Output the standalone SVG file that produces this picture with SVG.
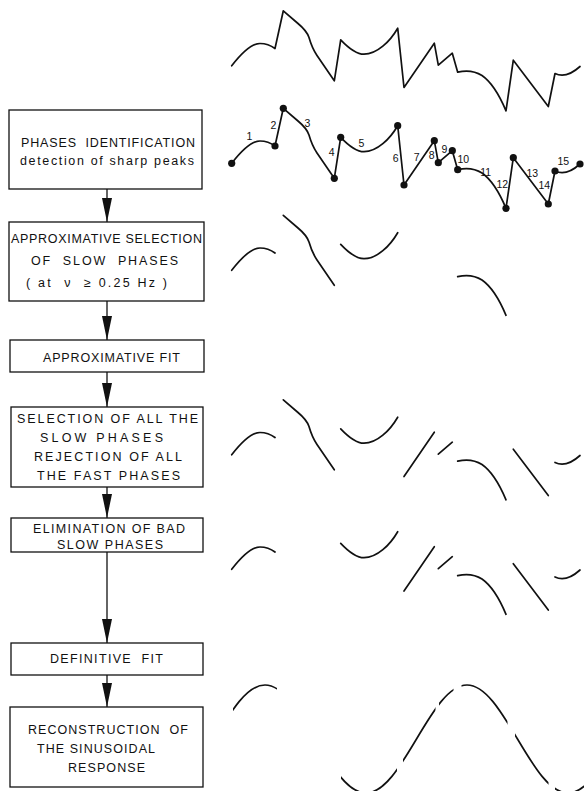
<svg xmlns="http://www.w3.org/2000/svg" width="584" height="791" viewBox="0 0 584 791">
<style>
.box{fill:#fff;stroke:#111;stroke-width:1.3}
.t{font-family:"Liberation Sans",Arial,sans-serif;font-size:12.5px;fill:#111}
.n{font-family:"Liberation Sans",Arial,sans-serif;font-size:10.5px;fill:#111;text-anchor:middle}
.tr{fill:none;stroke:#111;stroke-width:1.7;stroke-linecap:round;stroke-linejoin:round}
.c{stroke:#111;stroke-width:1.3;fill:none}
.dot{fill:#111}
</style>
<defs>
<marker id="ah" markerUnits="userSpaceOnUse" markerWidth="24" markerHeight="10" refX="24" refY="5" orient="auto"><path d="M0,0 L24,5 L0,10 z" fill="#111"/></marker>
<path id="sig" d="M231.7,163.3 C242,150 252,141 260,141 C266,141 271,143 275,146 L283.3,108.3 L298,121 C304,126 307,129 309,135 C311,142 313,147 317,153 L334.3,178.3 L340.7,137.3 C348,145 356,151.7 364,151.7 C377,151.7 390,139 397.7,125.7 L404,185 L434.3,140.7 L438.3,162.7 L452.3,150.7 L457.7,169.7 C465,168 474,168 482,173 C492,180 500,194 506,208.3 L513.3,157.7 L548.3,204 L555,171 C561,174 570,173 580,164"/>
<path id="p1" d="M231.7,163.3 C242,150 252,141 260,141 C266,141 271,143 275,146"/>
<path id="p3" d="M283.3,108.3 L298,121 C304,126 307,129 309,135 C311,142 313,147 317,153 L334.3,178.3"/>
<path id="p5" d="M340.7,137.3 C348,145 356,151.7 364,151.7 C377,151.7 390,139 397.7,125.7"/>
<path id="p7" d="M404,185 L434.3,140.7"/>
<path id="p9" d="M438.3,162.7 L452.3,150.7"/>
<path id="p11" d="M457.7,169.7 C465,168 474,168 482,173 C492,180 500,194 506,208.3"/>
<path id="p13" d="M513.3,157.7 L548.3,204"/>
<path id="p15" d="M555,171 C561,174 570,173 580,164"/>
<clipPath id="dash">
<rect x="233" y="660" width="44" height="131"/>
<rect x="341" y="660" width="56" height="131"/>
<rect x="403" y="660" width="32.5" height="131"/>
<rect x="439" y="660" width="14.5" height="131"/>
<rect x="461.5" y="660" width="46" height="131"/>
<rect x="515" y="660" width="33.5" height="131"/>
<rect x="555" y="660" width="29" height="131"/>
</clipPath>
</defs>
<rect width="584" height="791" fill="#fff"/>

<g id="connectors" class="c">
<path d="M107,189 L107,222" marker-end="url(#ah)"/>
<path d="M107,301 L107,340" marker-end="url(#ah)"/>
<path d="M107,372 L107,407" marker-end="url(#ah)"/>
<path d="M107,487 L107,518" marker-end="url(#ah)"/>
<path d="M107,552 L107,643" marker-end="url(#ah)"/>
<path d="M107,675 L107,707" marker-end="url(#ah)"/>
</g>

<g id="phases-identification">
<rect class="box" x="9" y="110" width="193" height="79"/>
<text class="t" x="21" y="147" textLength="174" lengthAdjust="spacing" xml:space="preserve">PHASES  IDENTIFICATION</text>
<text class="t" x="20" y="165" textLength="174" lengthAdjust="spacing">detection of sharp peaks</text>
</g>
<g id="approximative-selection">
<rect class="box" x="9" y="222" width="195" height="79"/>
<text class="t" x="11" y="243" textLength="191" lengthAdjust="spacing">APPROXIMATIVE SELECTION</text>
<text class="t" x="31" y="265" textLength="147" lengthAdjust="spacing" xml:space="preserve">OF  SLOW  PHASES</text>
<text class="t" x="26" y="287" textLength="141" lengthAdjust="spacing" xml:space="preserve">( at  ν  ≥ 0.25 Hz )</text>
</g>
<g id="approximative-fit">
<rect class="box" x="10" y="340" width="194" height="32"/>
<text class="t" x="43" y="362" textLength="137" lengthAdjust="spacing">APPROXIMATIVE FIT</text>
</g>
<g id="selection-all">
<rect class="box" x="11" y="407" width="192" height="80"/>
<text class="t" x="17" y="423" textLength="181" lengthAdjust="spacing">SELECTION OF ALL THE</text>
<text class="t" x="40" y="442" textLength="123" lengthAdjust="spacing">SLOW PHASES</text>
<text class="t" x="34" y="461" textLength="148" lengthAdjust="spacing">REJECTION OF ALL</text>
<text class="t" x="37" y="480" textLength="143" lengthAdjust="spacing">THE FAST PHASES</text>
</g>
<g id="elimination">
<rect class="box" x="11" y="518" width="192" height="34"/>
<text class="t" x="33" y="533" textLength="152" lengthAdjust="spacing">ELIMINATION OF BAD</text>
<text class="t" x="57" y="549" textLength="106" lengthAdjust="spacing">SLOW PHASES</text>
</g>
<g id="definitive-fit">
<rect class="box" x="11" y="643" width="192" height="32"/>
<text class="t" x="50" y="663" textLength="113" lengthAdjust="spacing" xml:space="preserve">DEFINITIVE  FIT</text>
</g>
<g id="reconstruction">
<rect class="box" x="10" y="707" width="193" height="80"/>
<text class="t" x="28" y="734" textLength="160" lengthAdjust="spacing" xml:space="preserve">RECONSTRUCTION  OF</text>
<text class="t" x="37" y="753" textLength="118" lengthAdjust="spacing">THE SINUSOIDAL</text>
<text class="t" x="68" y="772" textLength="77" lengthAdjust="spacing">RESPONSE</text>
</g>

<g id="raw-signal" class="tr" transform="translate(0,-97.5)">
<use href="#sig"/>
</g>

<g id="peaks-trace">
<use href="#sig" class="tr"/>
<g class="dot">
<circle cx="231.7" cy="163.3" r="3.6"/>
<circle cx="275" cy="146" r="3.6"/>
<circle cx="283.3" cy="108.3" r="3.6"/>
<circle cx="334.3" cy="178.3" r="3.6"/>
<circle cx="340.7" cy="137.3" r="3.6"/>
<circle cx="397.7" cy="125.7" r="3.6"/>
<circle cx="404" cy="185" r="3.6"/>
<circle cx="434.3" cy="140.7" r="3.6"/>
<circle cx="438.3" cy="162.7" r="3.6"/>
<circle cx="452.3" cy="150.7" r="3.6"/>
<circle cx="457.7" cy="169.7" r="3.6"/>
<circle cx="506" cy="208.3" r="3.6"/>
<circle cx="513.3" cy="157.7" r="3.6"/>
<circle cx="548.3" cy="204" r="3.6"/>
<circle cx="555" cy="171" r="3.6"/>
<circle cx="580" cy="164" r="3.6"/>
</g>
<g class="n">
<text x="249.3" y="140">1</text>
<text x="273.3" y="128.5">2</text>
<text x="307.3" y="127">3</text>
<text x="331.7" y="156">4</text>
<text x="361.3" y="147">5</text>
<text x="395.7" y="162">6</text>
<text x="416.7" y="161">7</text>
<text x="431.7" y="158.5">8</text>
<text x="444.3" y="152.5">9</text>
<text x="463.3" y="162.5">10</text>
<text x="485.7" y="176">11</text>
<text x="502.3" y="188">12</text>
<text x="532.3" y="177">13</text>
<text x="544.3" y="189">14</text>
<text x="563.3" y="165">15</text>
</g>
</g>

<g id="approx-slow-trace" class="tr" transform="translate(0,107)">
<use href="#p1"/><use href="#p3"/><use href="#p5"/><use href="#p11"/>
</g>

<g id="all-slow-trace" class="tr" transform="translate(0,291.5)">
<use href="#p1"/><use href="#p3"/><use href="#p5"/><use href="#p7"/><use href="#p9"/><use href="#p11"/><use href="#p13"/><use href="#p15"/>
</g>

<g id="good-slow-trace" class="tr" transform="translate(0,406)">
<use href="#p1"/><use href="#p5"/><use href="#p7"/><use href="#p9"/><use href="#p11"/><use href="#p13"/><use href="#p15"/>
</g>

<g id="sinusoid-trace" clip-path="url(#dash)">
<path class="tr" d="M214.5,739 C230.97,711.34 246.72,685 265,685 C283.28,685 299.03,711.34 315.5,739 C331.97,766.66 347.72,793 366,793 C384.28,793 400.03,766.66 416.5,739 C432.97,711.34 448.72,685 467,685 C485.28,685 501.03,711.34 517.5,739 C533.97,766.66 549.72,793 568,793 C586.28,793 602.03,766.66 618.5,739"/>
</g>
</svg>
